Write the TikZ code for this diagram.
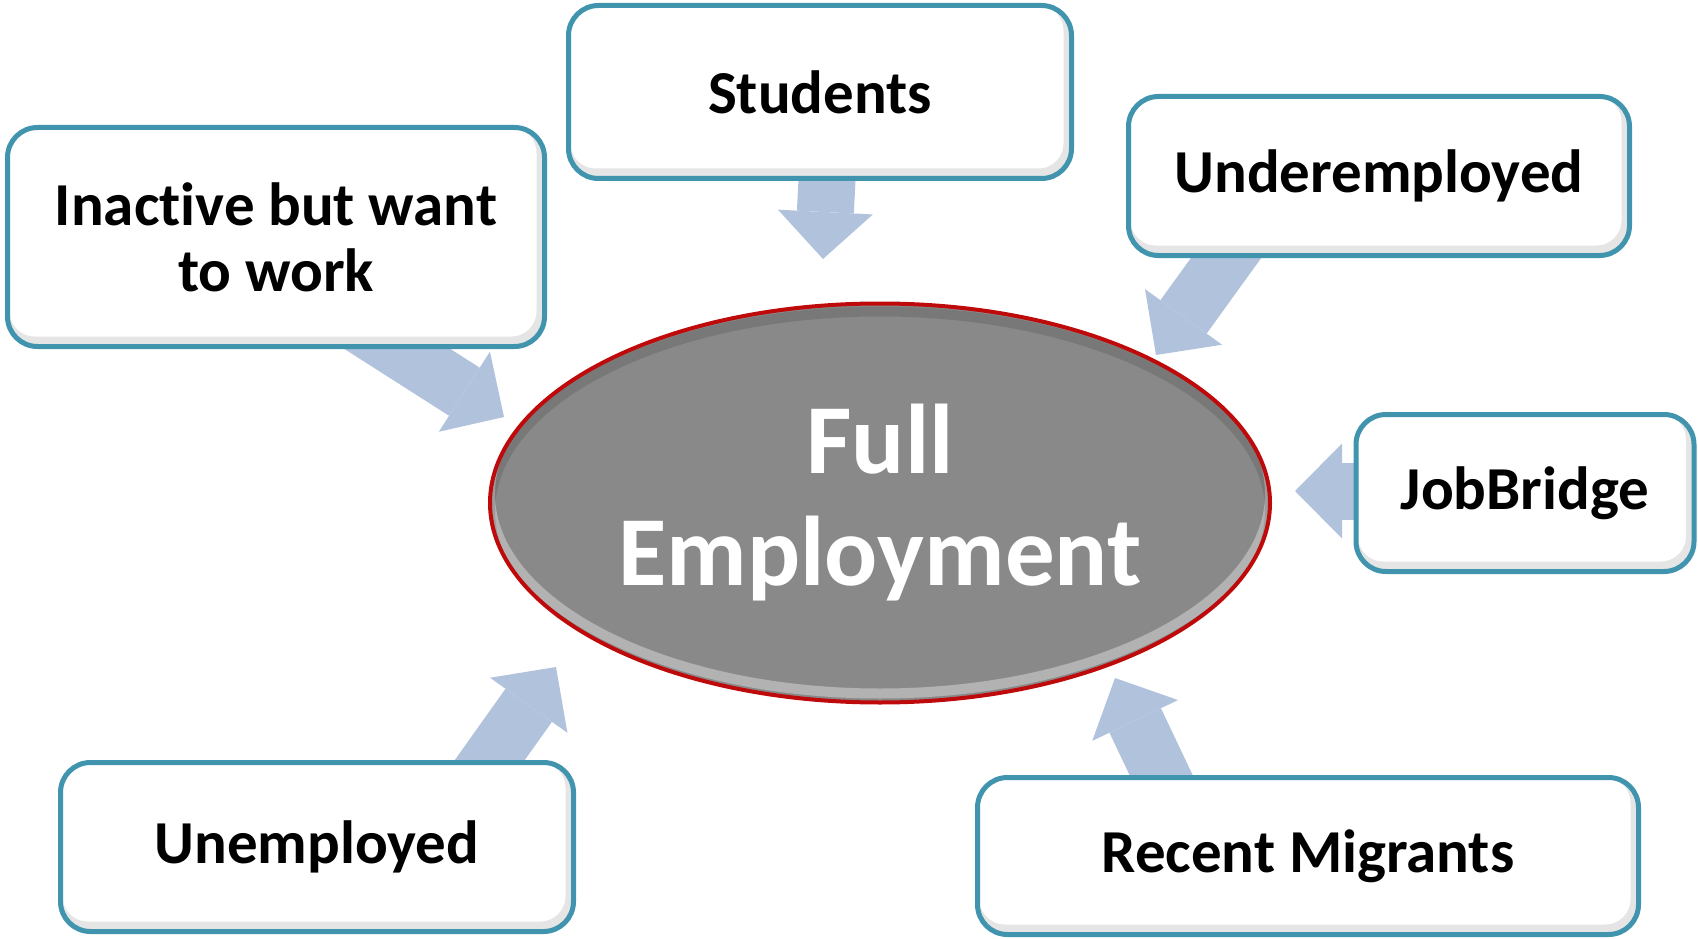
\documentclass[tikz,border=0pt]{standalone}
\usepackage{fontspec}
\setmainfont{Carlito}[Ligatures=NoCommon]
\usepackage{tikz}
\usetikzlibrary{arrows.meta}
\usetikzlibrary{shapes.geometric}
\usetikzlibrary{backgrounds}

\definecolor{boxline}{RGB}{64,148,174}
\definecolor{flowblue}{RGB}{177,194,221}
\definecolor{fullgray}{RGB}{137,137,137}
\definecolor{rimred}{RGB}{190,10,10}

\begin{document}
\begin{tikzpicture}[x=1pt,y=-1pt,
    group/.style={draw=boxline, line width=5pt, fill=white, rounded corners=30pt, inner sep=0pt, align=center, font=\fontsize{61}{66}\selectfont\bfseries,
        path picture={\draw[black, opacity=0.1, line width=10pt, rounded corners=30pt] ([yshift=5pt,xshift=-3pt]path picture bounding box.south west) rectangle ([yshift=5pt,xshift=-3pt]path picture bounding box.north east);}},
    goal/.style={ellipse, draw=rimred, line width=4pt, fill=fullgray, text=white, inner sep=0pt, minimum width=780pt, minimum height=399pt, align=center, font=\fontsize{99}{112}\selectfont\bfseries,
        path picture={\draw[white, opacity=0.35, line width=10pt] ([yshift=9pt]path picture bounding box.center) ellipse (390 and 199.5);
            \draw[black, opacity=0.12, line width=10pt] ([yshift=-8pt]path picture bounding box.center) ellipse (390 and 199.5);}},
    flow/.style={draw=flowblue, line width=57pt, -{Triangle[width=95pt, length=47pt, line width=0pt]}}]
        \useasboundingbox (0,0) rectangle (1698,939);

        \node[goal] (full) at (880,503) {Full\\Employment};
        \node[group, minimum width=503pt, minimum height=173pt] (stud) at (820,92) {Students};
        \node[group, minimum width=537pt, minimum height=219pt] (inact) at (276,237) {Inactive but want\\to work};
        \node[group, minimum width=501pt, minimum height=159pt] (under) at (1379,176) {Underemployed};
        \node[group, minimum width=338pt, minimum height=157pt] (job) at (1525,493) {JobBridge};
        \node[group, minimum width=513pt, minimum height=169pt] (unemp) at (317,847) {Unemployed};
        \node[group, minimum width=661pt, minimum height=157pt] (recent) at (1308,856) {Recent Migrants};

        \coordinate (studin) at (823,259);
        \coordinate (inactin) at (504,417);
        \coordinate (underin) at (1156,355);
        \coordinate (jobin) at (1295,491);
        \coordinate (unempin) at (556,667);
        \coordinate (recentin) at (1115,678);

        \begin{scope}[on background layer]
            \draw[flow] ([shift={(8,-21)}]stud.south) -- (studin);
            \draw[flow] ([shift={(76,-29)}]inact.south) -- (inactin);
            \draw[flow] ([shift={(-106,-65)}]under.south) -- (underin);
            \draw[flow] ([shift={(97,-2)}]job.west) -- (jobin);
            \draw[flow] ([shift={(123,70)}]unemp.north) -- (unempin);
            \draw[flow] ([shift={(-107,84)}]recent.north) -- (recentin);
        \end{scope}
    \end{tikzpicture}
\end{document}
